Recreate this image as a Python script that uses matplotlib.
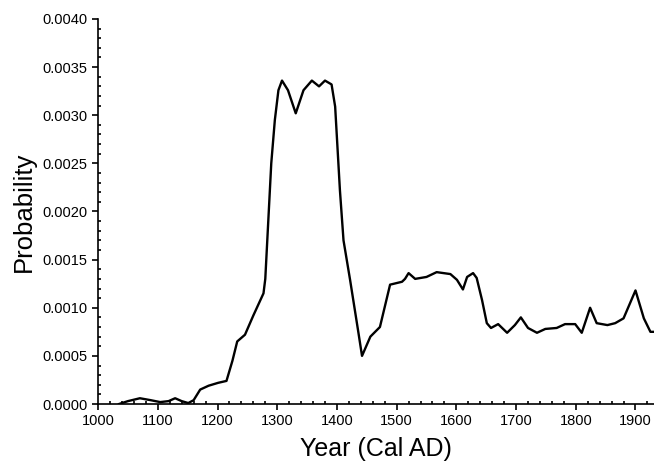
import matplotlib
matplotlib.use('Agg')
import matplotlib.pyplot as plt
from matplotlib.ticker import MultipleLocator, FormatStrFormatter
import numpy as np

# summed probability
years = [1035, 1050, 1070, 1088, 1104, 1118, 1129, 1140, 1151, 1160, 1171, 1185,
         1201, 1215, 1225, 1233, 1246, 1260, 1277, 1280, 1285, 1290, 1296, 1302,
         1308, 1318, 1331, 1344, 1358, 1370, 1380, 1391, 1397, 1405, 1411, 1422,
         1436, 1442, 1456, 1472, 1489, 1509, 1514, 1520, 1531, 1550, 1567, 1590,
         1601, 1611, 1618, 1628, 1634, 1643, 1651, 1658, 1670, 1685, 1698, 1708,
         1720, 1735, 1749, 1768, 1782, 1799, 1810, 1824, 1835, 1853, 1866, 1880,
         1900, 1914, 1925, 1935]
prob = [0.0, 0.00003, 0.00006, 0.00004, 0.00002, 0.00003, 0.00006, 0.00003,
        0.00001, 0.00004, 0.00015, 0.00019, 0.00022, 0.00024, 0.00045, 0.00065,
        0.00072, 0.00092, 0.00115, 0.0013, 0.0019, 0.0025, 0.00295, 0.00326,
        0.00336, 0.00326, 0.00302, 0.00326, 0.00336, 0.0033, 0.00336, 0.00332,
        0.00309, 0.00222, 0.0017, 0.00129, 0.00074, 0.0005, 0.0007, 0.0008,
        0.00124, 0.00127, 0.00130, 0.00136, 0.0013, 0.00132, 0.00137, 0.00135,
        0.00129, 0.00119, 0.00132, 0.00136, 0.00131, 0.00108, 0.00084, 0.00079,
        0.00083, 0.00074, 0.00082, 0.0009, 0.00079, 0.00074, 0.00078, 0.00079,
        0.00083, 0.00083, 0.00074, 0.001, 0.00084, 0.00082, 0.00084, 0.00089,
        0.00118, 0.00089, 0.00075, 0.00075]

plt.rcParams['font.family'] = ['Liberation Sans', 'DejaVu Sans']

fig = plt.figure(figsize=(6.54, 4.63), dpi=100)
ax = fig.add_axes([0.150, 0.1274, 0.85, 0.8316])

ax.plot(years, prob, color='black', lw=1.7)

ax.set_xlim(1000, 1931)
ax.set_ylim(0, 0.004)
ax.xaxis.set_major_locator(MultipleLocator(100))
ax.xaxis.set_minor_locator(MultipleLocator(20))
ax.yaxis.set_major_locator(MultipleLocator(0.0005))
ax.yaxis.set_minor_locator(MultipleLocator(0.0001))
ax.yaxis.set_major_formatter(FormatStrFormatter('%.4f'))

ax.spines['top'].set_visible(False)
ax.spines['right'].set_visible(False)
ax.spines['left'].set_linewidth(1.2)
ax.spines['bottom'].set_linewidth(1.2)
ax.tick_params(which='major', direction='out', length=4, width=1.2, labelsize=10.5)
ax.tick_params(which='minor', direction='in', length=2.5, width=1.2)

ax.set_xlabel('Year (Cal AD)', fontsize=18, labelpad=6)
ax.set_ylabel('Probability', fontsize=18.5, labelpad=5)

fig.savefig('out.png', dpi=100)
